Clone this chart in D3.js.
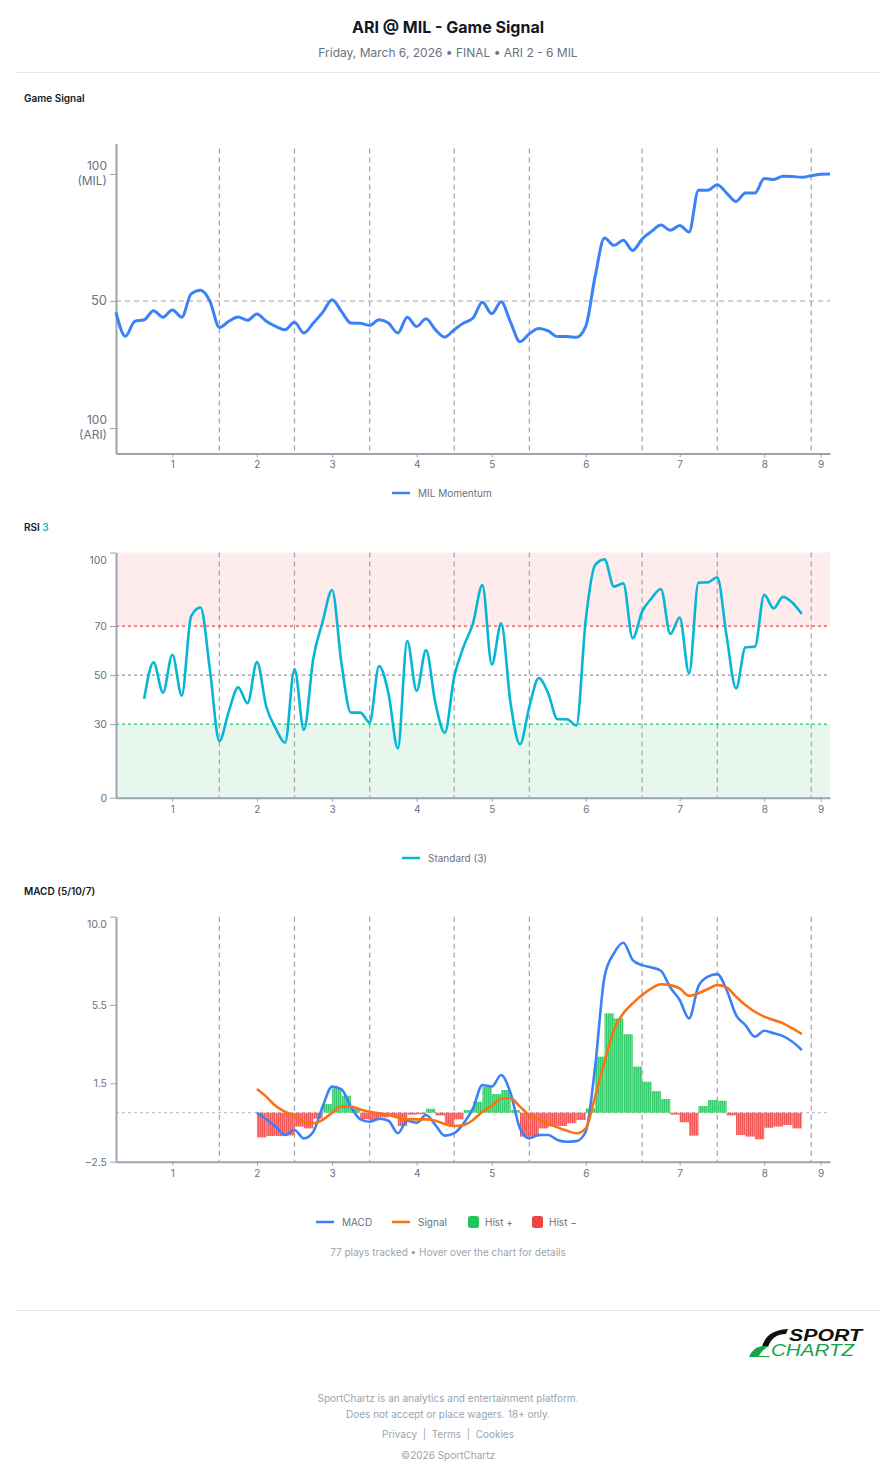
<!DOCTYPE html>
<html><head><meta charset="utf-8">
<script src="https://cdn.jsdelivr.net/npm/d3@7"></script>
<style>
body{margin:0;background:#fff;font-family:Inter,"Noto Sans",sans-serif;}
svg{display:block}
</style></head><body>
<svg id="c" width="896" height="1480"></svg>
<script>
// ---------- data ----------
const innings = ["1","2","3","4","5","6","7","8","9"];
const inningTickPlays = [6,15,23,32,40,50,60,69,75];
const inningBoundaryPlays = [11,19,27,36,44,56,64,74];
const totalPlays = 77;

// MIL momentum per play (0 = ARI 100, 100 = MIL 100)
const momentum = [
  45.5,36.1,42,42.6,46.2,43.6,46.5,43.6,52.8,54.2,
  49.9,39.6,42,43.7,42.4,44.9,42,40,38.7,41.6,
  37.4,41.3,45.5,50.5,45.9,41.3,41.2,40.4,42.6,41.3,
  37.4,43.6,40,43,38.7,35.8,38.7,41.3,43.3,49.5,
  45,49.7,41.6,34,37.1,39.2,38.2,36,36,35.7,
  40,59.7,74.8,71.9,73.9,69.9,74.4,77.4,79.9,77.8,
  79.7,77.2,93.6,93.6,95.8,92.5,89.2,92.5,92.5,98.2,
  97.8,99.1,99,98.7,99.3,99.9,100
];

const rsiStartPlay = 3;
const rsi = [
  40.3,55.2,42.8,58.3,41.6,74.1,77.6,52.1,23.1,35.1,
  45,38.5,55.3,37.1,28.3,22.4,52.5,27.6,56.8,71.8,
  84.7,54.8,34.7,34.7,30.7,53.7,42.6,20.1,63.9,43.6,
  60.2,38.5,26.5,49.3,61.6,71.1,86.7,54.3,71.1,38.5,
  21.8,37.1,48.8,42.6,32,32,29.4,72.5,94.9,97.2,
  86.1,87.4,65,75.9,81.3,85.1,66.8,73.5,50.7,87.7,
  87.8,89.9,65.8,44.6,61.3,61.6,82.7,77.2,81.9,79.5,74.9
];
const rsiTicks = [0,30,50,70,100];

const macdStartPlay = 15;
const macd = [
  0,-0.34,-0.71,-1.14,-0.88,-1.31,-0.97,0.31,1.33,1.19,
  0.31,-0.34,-0.46,-0.31,-0.41,-1.05,-0.41,-0.51,-0.12,-0.63,
  -1.17,-1.05,-0.54,0.22,1.41,1.33,1.92,0.99,-0.8,-1.31,
  -1.14,-1.14,-1.39,-1.48,-1.45,-0.97,2.35,6.94,8.13,8.67,
  7.79,7.53,7.41,7.24,6.39,5.75,4.81,6.46,6.94,7.07,
  6.26,4.98,4.47,3.88,4.18,4.05,3.91,3.62,3.2
];
const signal = [
  1.21,0.82,0.34,0.05,-0.17,-0.46,-0.54,-0.37,0,0.31,
  0.31,0.17,0.05,-0.03,-0.12,-0.24,-0.34,-0.34,-0.34,-0.41,
  -0.58,-0.68,-0.63,-0.37,0.05,0.34,0.71,0.73,0.31,-0.12,
  -0.34,-0.54,-0.75,-0.92,-1.05,-0.8,0.82,2.6,4.22,5.07,
  5.58,6,6.34,6.55,6.51,6.34,5.97,6.09,6.31,6.51,
  6.39,5.92,5.49,5.15,4.9,4.73,4.56,4.3,4.01
];
const histStartPlay = 15;
const hist = [
  -1.26,-1.19,-1.19,-1.16,-0.71,-0.8,-0.3,0.44,1.24,0.87,
  0.2,-0.34,-0.4,-0.24,-0.2,-0.68,-0.1,-0.08,0.2,-0.14,
  -0.65,-0.34,0.14,0.56,1.33,0.95,1.16,0.14,-1.22,-1.22,
  -0.8,-0.71,-0.68,-0.54,-0.37,0.22,2.86,5.07,4.81,4.0,
  2.35,1.58,1.1,0.7,-0.1,-0.49,-1.17,0.34,0.65,0.61,
  -0.14,-1.14,-1.22,-1.36,-0.77,-0.71,-0.63,-0.8
];
const macdTicks = [-2.5,1.5,5.5,10];

// ---------- style ----------
const C = {
  blue:"#3b82f6", cyan:"#06b6d4", orange:"#f97316", green:"#22c55e", red:"#ef4444",
  axis:"#9ca3af", tick:"#6b7280", grid:"#a1a1aa", text:"#111827"
};
const svg = d3.select("#c");
const defs = svg.append("defs");
function stripe(id, col){
  const p = defs.append("pattern").attr("id",id).attr("patternUnits","userSpaceOnUse")
    .attr("width",2).attr("height",4);
  p.append("rect").attr("width",2).attr("height",4).attr("fill",col);
  p.append("rect").attr("x",1.4).attr("width",0.6).attr("height",4).attr("fill","#fff").attr("opacity",0.45);
}
stripe("stG", C.green); stripe("stR", C.red);

const x = d3.scaleLinear().domain([0, totalPlays-1]).range([116, 830]);

// ---------- header ----------
svg.append("text").attr("x",448).attr("y",33).attr("text-anchor","middle")
  .attr("font-size",16).attr("font-weight",700).attr("fill",C.text).text("ARI @ MIL - Game Signal");
svg.append("text").attr("x",448).attr("y",57).attr("text-anchor","middle")
  .attr("font-size",12).attr("fill",C.tick).text("Friday, March 6, 2026 • FINAL • ARI 2 - 6 MIL");
svg.append("line").attr("x1",16).attr("x2",880).attr("y1",72.5).attr("y2",72.5).attr("stroke","#e5e7eb");

function sectionTitle(y, parts){
  const t = svg.append("text").attr("x",24).attr("y",y).attr("font-size",10).attr("font-weight",600).attr("fill",C.text);
  parts.forEach(p=>t.append("tspan").attr("fill",p[1]||C.text).text(p[0]));
}

function xAxis(y0){
  const g = svg.append("g").attr("transform",`translate(0,${y0})`)
    .call(d3.axisBottom(x).tickValues(inningTickPlays).tickFormat((d,i)=>innings[i]).tickSize(4).tickSizeOuter(0).tickPadding(4));
  g.select(".domain").attr("stroke",C.axis).attr("stroke-width",2);
  g.selectAll(".tick line").attr("stroke",C.axis);
  g.selectAll(".tick text").attr("fill",C.tick).attr("font-size",10).attr("font-family","Inter,sans-serif");
}
function boundaries(y1,y2){
  svg.append("g").selectAll("line").data(inningBoundaryPlays).join("line")
    .attr("x1",d=>x(d)).attr("x2",d=>x(d)).attr("y1",y1).attr("y2",y2)
    .attr("stroke",C.grid).attr("stroke-width",1.2).attr("stroke-dasharray","5,4");
}
function legendLine(x0,y,col,label){
  svg.append("line").attr("x1",x0).attr("x2",x0+18).attr("y1",y).attr("y2",y).attr("stroke",col).attr("stroke-width",2.5);
  svg.append("text").attr("x",x0+26).attr("y",y+3.5).attr("font-size",10).attr("fill",C.tick).text(label);
}
function legendBox(x0,y,col,label){
  svg.append("rect").attr("x",x0).attr("y",y-6).attr("width",11).attr("height",12).attr("rx",2.5).attr("fill",col);
  svg.append("text").attr("x",x0+17).attr("y",y+3.5).attr("font-size",10).attr("fill",C.tick).text(label);
}

// ---------- chart 1: Game Signal ----------
sectionTitle(102, [["Game Signal"]]);
const yS = d3.scaleLinear().domain([-10,112]).range([453.4,143.5]);
boundaries(yS(110), yS(-10));
svg.append("line").attr("x1",x(0)).attr("x2",x(76)).attr("y1",yS(50)).attr("y2",yS(50))
  .attr("stroke",C.grid).attr("stroke-width",1.2).attr("stroke-dasharray","5,4");
{
  const g = svg.append("g").attr("transform","translate(116,0)")
    .call(d3.axisLeft(yS).tickValues([100,50,0]).tickSize(6).tickSizeOuter(0).tickFormat(""));
  g.select(".domain").attr("stroke",C.axis).attr("stroke-width",2);
  g.selectAll(".tick line").attr("stroke",C.axis);
  const lab = [[100,"100","(MIL)"],[50,"50",null],[0,"100","(ARI)"]];
  lab.forEach(([v,a,b])=>{
    if(b){
      svg.append("text").attr("text-anchor","end").attr("font-size",12).attr("fill",C.tick)
        .attr("x",107).attr("y",yS(v)-3.5).text(a);
      svg.append("text").attr("text-anchor","end").attr("font-size",12).attr("fill",C.tick)
        .attr("x",107).attr("y",yS(v)+11.5).text(b);
    } else {
      svg.append("text").attr("text-anchor","end").attr("font-size",13).attr("fill",C.tick)
        .attr("x",107).attr("y",yS(v)+4.5).text(a);
    }
  });
}
xAxis(453.4);
svg.append("path").datum(momentum)
  .attr("d", d3.line().x((d,i)=>x(i)).y(d=>yS(d)).curve(d3.curveMonotoneX))
  .attr("fill","none").attr("stroke",C.blue).attr("stroke-width",3).attr("stroke-linejoin","round");
legendLine(392,493,C.blue,"MIL Momentum");

// ---------- chart 2: RSI ----------
sectionTitle(531, [["RSI "],["3",C.cyan]]);
const yR = d3.scaleLinear().domain([0,100]).range([797.7,552.5]);
svg.append("rect").attr("x",x(0)).attr("width",x(76)-x(0)).attr("y",yR(100)).attr("height",yR(70)-yR(100)).attr("fill","#fdeceb");
svg.append("rect").attr("x",x(0)).attr("width",x(76)-x(0)).attr("y",yR(30)).attr("height",yR(0)-yR(30)).attr("fill","#e8f7ee");
boundaries(yR(100), yR(0));
[[70,C.red],[50,"#9a9a9a"],[30,C.green]].forEach(([v,col])=>{
  svg.append("line").attr("x1",x(0)).attr("x2",x(76)).attr("y1",yR(v)).attr("y2",yR(v))
    .attr("stroke",col).attr("stroke-width",1.2).attr("stroke-dasharray","3,3");
});
{
  const g = svg.append("g").attr("transform","translate(116,0)")
    .call(d3.axisLeft(yR).tickValues(rsiTicks).tickSize(6).tickSizeOuter(0).tickPadding(3));
  g.select(".domain").attr("stroke",C.axis).attr("stroke-width",2);
  g.selectAll(".tick line").attr("stroke",C.axis);
  g.selectAll(".tick text").attr("fill",C.tick).attr("font-size",10.5).attr("font-family","Inter,sans-serif")
    .attr("dy",d=>d===100?"1em":"0.32em");
}
xAxis(797.7);
svg.append("path").datum(rsi)
  .attr("d", d3.line().x((d,i)=>x(i+rsiStartPlay)).y(d=>yR(d)).curve(d3.curveMonotoneX))
  .attr("fill","none").attr("stroke",C.cyan).attr("stroke-width",2.6).attr("stroke-linejoin","round");
legendLine(402,858,C.cyan,"Standard (3)");

// ---------- chart 3: MACD ----------
sectionTitle(895, [["MACD (5/10/7)"]]);
const yM = d3.scaleLinear().domain([-2.5,10]).range([1161.7,916.7]);
boundaries(yM(10), yM(-2.5));
svg.append("line").attr("x1",x(0)).attr("x2",x(76)).attr("y1",yM(0)).attr("y2",yM(0))
  .attr("stroke","#c4c4c4").attr("stroke-width",1.2).attr("stroke-dasharray","3,3");
{
  const g = svg.append("g").attr("transform","translate(116,0)")
    .call(d3.axisLeft(yM).tickValues(macdTicks).tickSize(6).tickSizeOuter(0).tickPadding(3).tickFormat(d3.format(".1f")));
  g.select(".domain").attr("stroke",C.axis).attr("stroke-width",2);
  g.selectAll(".tick line").attr("stroke",C.axis);
  g.selectAll(".tick text").attr("fill",C.tick).attr("font-size",10.5).attr("font-family","Inter,sans-serif")
    .attr("dy",d=>d===10?"1em":"0.32em");
}
xAxis(1161.7);
svg.append("g").selectAll("rect").data(hist).join("rect")
  .attr("x",(d,i)=>x(i+histStartPlay)).attr("width",(d,i)=>x(i+histStartPlay+1)-x(i+histStartPlay))
  .attr("y",d=>d>=0?yM(d):yM(0)).attr("height",d=>Math.abs(yM(d)-yM(0)))
  .attr("fill",d=>d>=0?"url(#stG)":"url(#stR)").attr("opacity",0.9);
svg.append("path").datum(macd)
  .attr("d", d3.line().x((d,i)=>x(i+macdStartPlay)).y(d=>yM(d)).curve(d3.curveMonotoneX))
  .attr("fill","none").attr("stroke",C.blue).attr("stroke-width",2.6).attr("stroke-linejoin","round");
svg.append("path").datum(signal)
  .attr("d", d3.line().x((d,i)=>x(i+macdStartPlay)).y(d=>yM(d)).curve(d3.curveMonotoneX))
  .attr("fill","none").attr("stroke",C.orange).attr("stroke-width",2.6).attr("stroke-linejoin","round");
legendLine(316,1222,C.blue,"MACD");
legendLine(392,1222,C.orange,"Signal");
legendBox(468,1222,C.green,"Hist +");
legendBox(532,1222,C.red,"Hist −");
svg.append("text").attr("x",448).attr("y",1256).attr("text-anchor","middle").attr("font-size",10)
  .attr("fill","#9ca3af").text(`${totalPlays} plays tracked • Hover over the chart for details`);

// ---------- footer ----------
svg.append("line").attr("x1",16).attr("x2",880).attr("y1",1310.5).attr("y2",1310.5).attr("stroke","#e5e7eb");
const logo = svg.append("g");
logo.append("path").attr("d","M762 1347 C765 1336 772 1330 788 1329 L786 1334 C777 1334 771 1338 768 1347 Z").attr("fill","#111");
logo.append("path").attr("d","M749 1357 C752 1350 757 1346 765 1346 L769 1346 C764 1349 761 1352 759 1356 L770 1356 L769 1357 Z").attr("fill","#16a34a");
logo.append("text").attr("x",789).attr("y",1341).attr("font-family","'Liberation Sans',Arial,sans-serif")
  .attr("font-size",16).attr("font-weight",700).attr("font-style","italic").attr("fill","#111")
  .attr("textLength",73).attr("lengthAdjust","spacingAndGlyphs").text("SPORT");
logo.append("text").attr("x",771).attr("y",1356).attr("font-family","'Liberation Sans',Arial,sans-serif")
  .attr("font-size",16).attr("font-style","italic").attr("fill","#16a34a")
  .attr("textLength",83).attr("lengthAdjust","spacingAndGlyphs").text("CHARTZ");
const foot = [
  [1402,"SportChartz is an analytics and entertainment platform."],
  [1418,"Does not accept or place wagers. 18+ only."],
  [1438,"Privacy  |  Terms  |  Cookies"],
  [1459,"©2026 SportChartz"]
];
svg.append("g").selectAll("text").data(foot).join("text")
  .attr("x",448).attr("y",d=>d[0]).attr("text-anchor","middle").attr("font-size",10)
  .attr("fill","#9ca3af").attr("xml:space","preserve").style("white-space","pre").text(d=>d[1]);
</script>
</body></html>
